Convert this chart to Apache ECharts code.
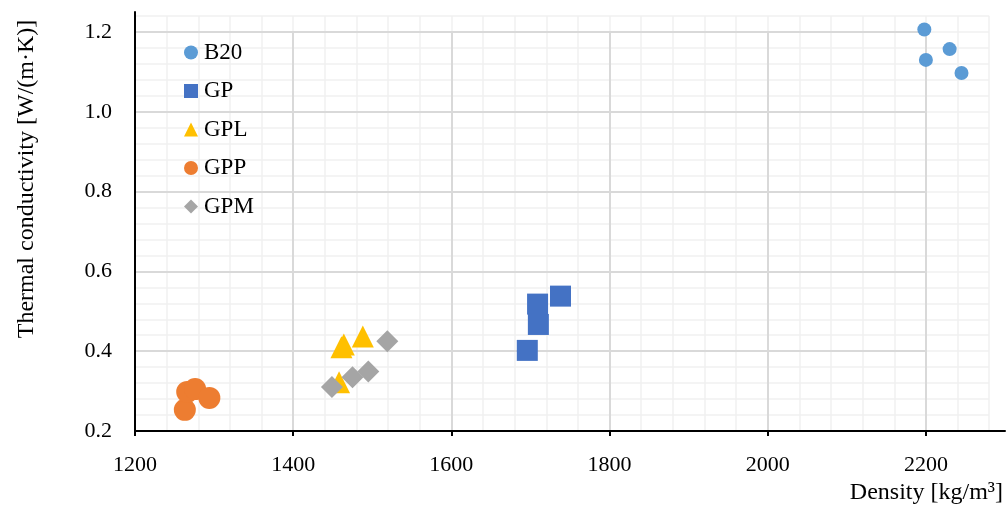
<!DOCTYPE html>
<html>
<head>
<meta charset="utf-8">
<script src="https://cdn.jsdelivr.net/npm/echarts@6/dist/echarts.min.js"></script>
<style>
  html, body { margin: 0; padding: 0; background: #fff; }
  #chart { width: 1008px; height: 509px; }
</style>
</head>
<body>
<div id="chart"></div>
<script>
// Density [kg/m³] vs thermal conductivity [W/(m·K)] per mix
const seriesNames = ['B20', 'GP', 'GPL', 'GPP', 'GPM'];
const B20 = [[2198, 1.206], [2230, 1.157], [2200, 1.130], [2245, 1.097]];
const GP  = [[1709, 0.518], [1738, 0.538], [1710, 0.467], [1696, 0.402]];
const GPL = [[1464, 0.417], [1461, 0.410], [1488, 0.437], [1458, 0.322]];
const GPP = [[1263, 0.253], [1266, 0.298], [1276, 0.305], [1294, 0.283]];
const GPM = [[1449, 0.310], [1475, 0.335], [1495, 0.349], [1519, 0.425]];

const xTicks = [1200, 1400, 1600, 1800, 2000, 2200];
const yTicks = [0.2, 0.4, 0.6, 0.8, 1.0, 1.2];

const xTitle = 'Density [kg/m³]';
const yTitle = 'Thermal conductivity [W/(m·K)]';

const FONT = "'Liberation Serif', 'DejaVu Serif', serif";
const colors = ['#5B9BD5', '#4472C4', '#FFC000', '#ED7D31', '#A5A5A5'];

const X_MIN = xTicks[0], X_MAX = 2300, X_MAJ = 200, X_MIN_STEP = 40;
const Y_MIN = yTicks[0], Y_MAX = 1.25, Y_MAJ = 0.2, Y_MIN_STEP = 0.04;

const chart = echarts.init(document.getElementById('chart'), null, { renderer: 'canvas' });

// plot area in pixels
const L = 135, T = 12, R = 1005, B = 431;
const pxPerX = (R - L) / (X_MAX - X_MIN);
const pxPerY = (B - T) / (Y_MAX - Y_MIN);
const xLast = xTicks[xTicks.length - 1];
const yLast = yTicks[yTicks.length - 1];
const minorXEnd = 2280, minorYEnd = 1.24;

const hidden = { show: false };

const option = {
  animation: false,
  backgroundColor: '#ffffff',
  grid: [
    // 0: data + axis lines
    { left: L, top: T, width: R - L, height: B - T },
    // 1: minor gridlines
    { left: L, top: B - (minorYEnd - Y_MIN) * pxPerY,
      width: (minorXEnd - X_MIN) * pxPerX, height: (minorYEnd - Y_MIN) * pxPerY },
    // 2: major gridlines, ticks and labels
    { left: L, top: B - (yLast - Y_MIN) * pxPerY,
      width: (xLast - X_MIN) * pxPerX, height: (yLast - Y_MIN) * pxPerY }
  ],
  xAxis: [
    { gridIndex: 0, type: 'value', min: X_MIN, max: X_MAX, interval: X_MAJ,
      axisLine: { show: true, lineStyle: { color: '#000', width: 2 } },
      axisTick: hidden, axisLabel: hidden, splitLine: hidden, z: 5 },
    { gridIndex: 1, type: 'value', min: X_MIN, max: minorXEnd, interval: X_MIN_STEP,
      axisLine: hidden, axisTick: hidden, axisLabel: hidden,
      splitLine: { show: true, lineStyle: { color: '#f0f0f0', width: 1.5 } }, z: 0 },
    { gridIndex: 2, type: 'value', min: X_MIN, max: xLast, interval: X_MAJ,
      axisLine: hidden,
      axisTick: { show: true, length: 5, lineStyle: { color: '#000', width: 2 } },
      axisLabel: { show: true, margin: 23, fontFamily: FONT, fontSize: 22, color: '#000',
        formatter: v => String(v) },
      splitLine: { show: true, lineStyle: { color: '#d9d9d9', width: 2 } }, z: 1 }
  ],
  yAxis: [
    { gridIndex: 0, type: 'value', min: Y_MIN, max: Y_MAX, interval: Y_MAJ,
      axisLine: { show: true, lineStyle: { color: '#000', width: 2 } },
      axisTick: hidden, axisLabel: hidden, splitLine: hidden, z: 5 },
    { gridIndex: 1, type: 'value', min: Y_MIN, max: minorYEnd, interval: Y_MIN_STEP,
      axisLine: hidden, axisTick: hidden, axisLabel: hidden,
      splitLine: { show: true, lineStyle: { color: '#f0f0f0', width: 1.5 } }, z: 0 },
    { gridIndex: 2, type: 'value', min: Y_MIN, max: yLast, interval: Y_MAJ,
      axisLine: hidden, axisTick: hidden,
      axisLabel: { show: true, margin: 23, fontFamily: FONT, fontSize: 22, color: '#000',
        formatter: v => v.toFixed(1) },
      splitLine: { show: true, lineStyle: { color: '#d9d9d9', width: 2 } }, z: 1 }
  ],
  legend: {
    orient: 'vertical',
    left: 184, top: 41,
    padding: 0,
    itemWidth: 14, itemHeight: 14, itemGap: 15.5,
    textStyle: { fontFamily: FONT, fontSize: 23, color: '#000', padding: [0, 0, 0, 1] },
    data: seriesNames
  },
  graphic: [
    { type: 'text', right: 5, top: 481,
      style: { text: xTitle, font: `24px ${FONT}`, fill: '#000' } },
    { type: 'text', x: 27, y: 179, rotation: Math.PI / 2,
      style: { text: yTitle, font: `24px ${FONT}`, fill: '#000',
        textAlign: 'center', textVerticalAlign: 'middle' } }
  ],
  series: [
    { name: 'B20', type: 'scatter', data: B20, symbol: 'circle', symbolSize: 14 },
    { name: 'GP',  type: 'scatter', data: GP,  symbol: 'rect', symbolSize: 21 },
    { name: 'GPL', type: 'scatter', data: GPL, symbol: 'triangle', symbolSize: 22 },
    { name: 'GPP', type: 'scatter', data: GPP, symbol: 'circle', symbolSize: 22 },
    { name: 'GPM', type: 'scatter', data: GPM, symbol: 'diamond', symbolSize: 22 }
  ].map((s, i) => Object.assign(s, {
    xAxisIndex: 0, yAxisIndex: 0, z: 3,
    itemStyle: { color: colors[i], opacity: 1 },
    emphasis: { disabled: true }
  }))
};

chart.setOption(option);
</script>
</body>
</html>
